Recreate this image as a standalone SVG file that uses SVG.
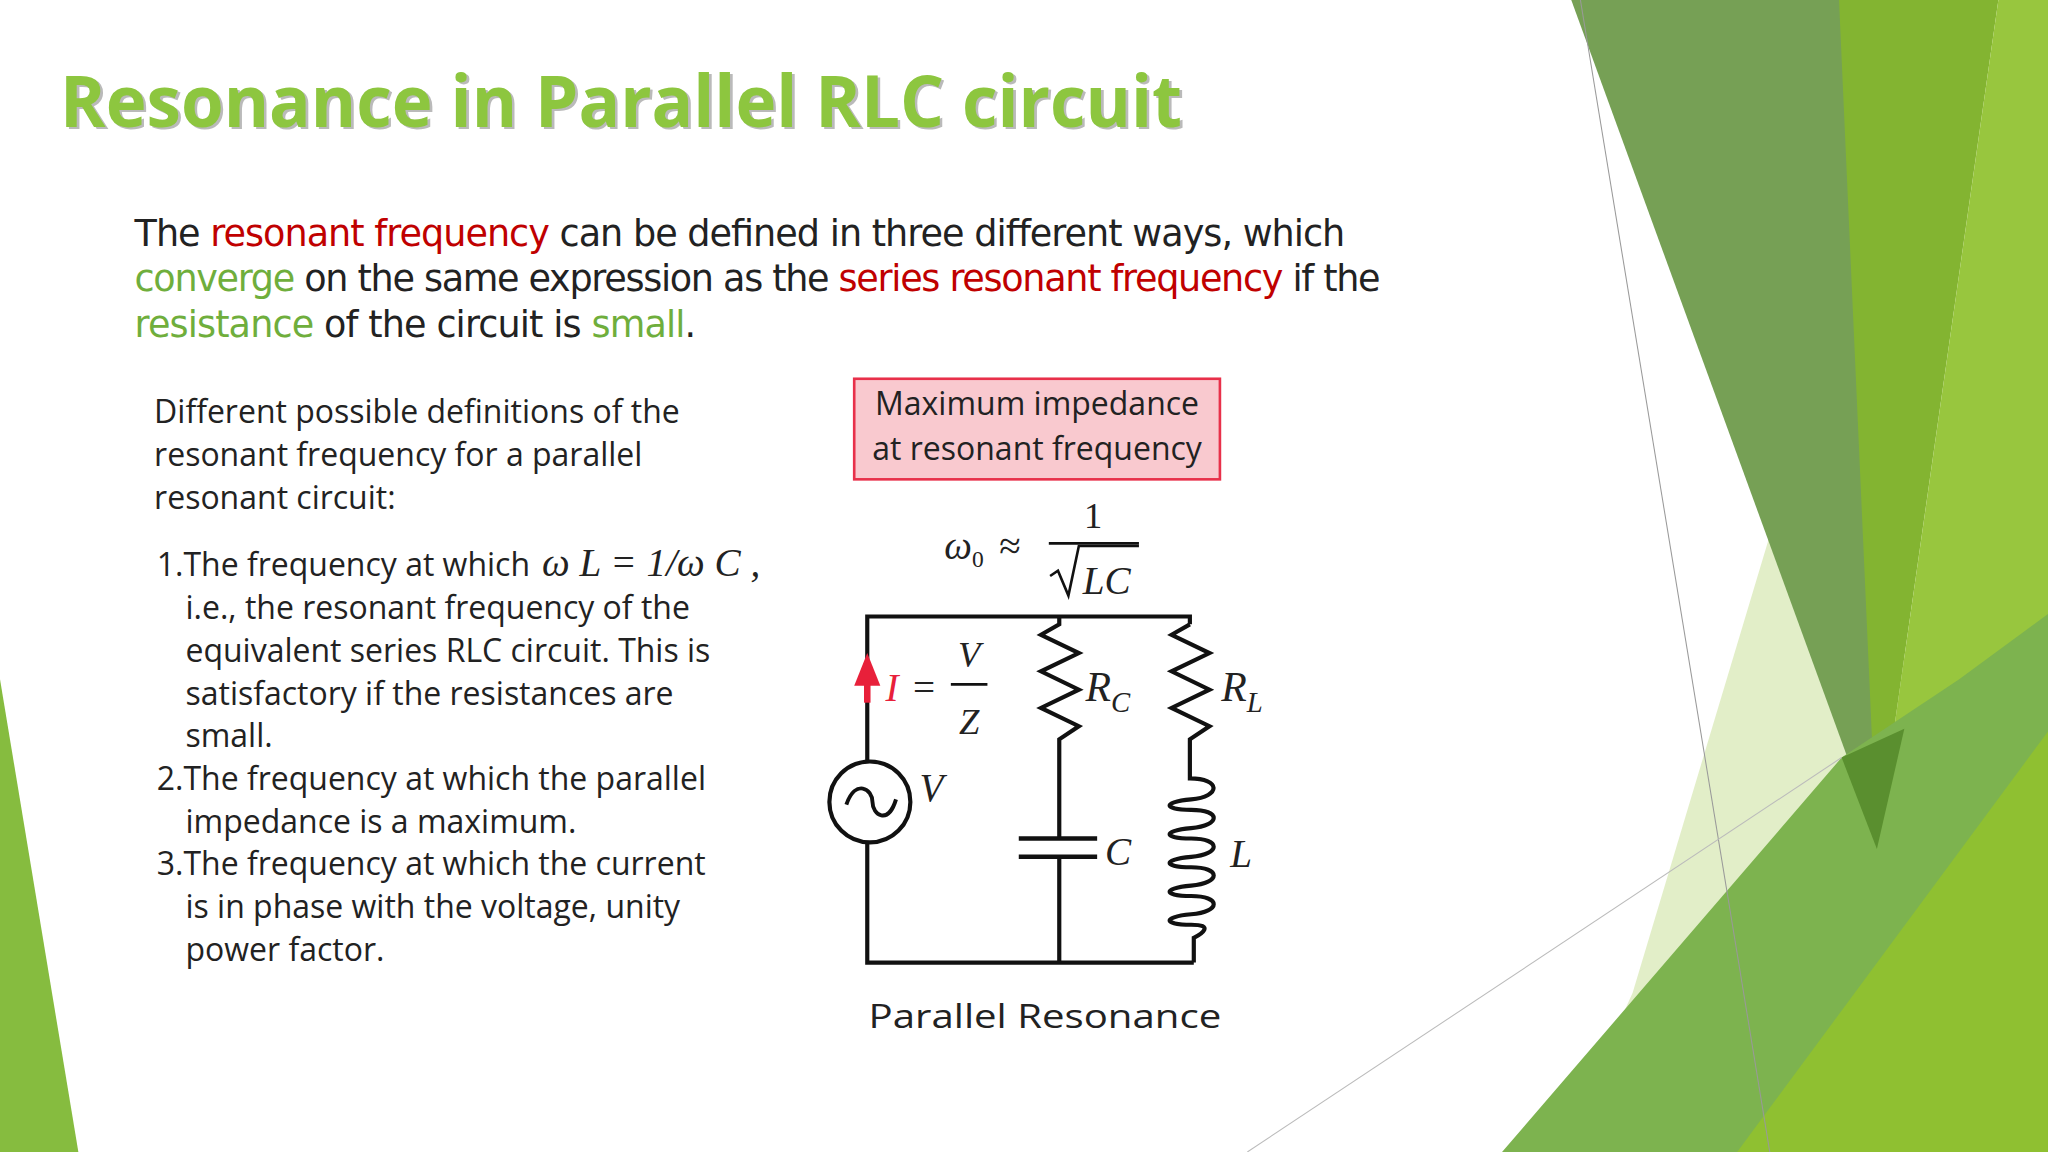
<svg xmlns="http://www.w3.org/2000/svg" width="2048" height="1152" viewBox="0 0 2048 1152">
<style>
.p{font-family:"DejaVu Sans",Verdana,sans-serif;font-size:28px;fill:#222}
.r{fill:#c00000}.g{fill:#6fae3c}
.c{font-family:"Open Sans","Liberation Sans",sans-serif;font-size:24.5px;fill:#222}
.m{font-family:"Liberation Serif",serif;font-style:italic;fill:#222}
.w{fill:none;stroke:#111;stroke-width:3.2;stroke-linejoin:miter}
</style>
<rect width="2048" height="1152" fill="#fff"/>
<g transform="scale(1.30612)">
<g id="background">
<polygon points="0,520 60,882 0,882" fill="#86bc3f"/>
<polygon points="1370,360 1505,580 1420,882 1195,882 1250,760" fill="#cfe3a4" opacity="0.6"/>
<polygon points="1203,0 1410,0 1440,650" fill="#76a055"/>
<polygon points="1408,0 1530,0 1437,650" fill="#83b431"/>
<polygon points="1530,0 1568,0 1568,560 1450,700 1437,650" fill="#98c63e"/>
<polygon points="1150,882 1410,580 1500,520 1568,470 1568,882" fill="#7db34f"/>
<polygon points="1330,882 1568,560 1568,882" fill="#8fc031"/>
<polygon points="1410,580 1458,558 1437,650" fill="#5a8f2f"/>
<line x1="1210" y1="0" x2="1355" y2="882" stroke="#999" stroke-width="0.8"/>
<line x1="955" y1="882" x2="1410" y2="580" stroke="#bbb" stroke-width="0.8"/>
</g>
<g id="title">
<text x="48" y="99" font-family="'Open Sans','DejaVu Sans',sans-serif" font-weight="bold" font-size="55" fill="#777" opacity="0.5" textLength="859" lengthAdjust="spacingAndGlyphs">Resonance in Parallel RLC circuit</text>
<text x="46" y="97" font-family="'Open Sans','DejaVu Sans',sans-serif" font-weight="bold" font-size="55" fill="#8dc63f" textLength="859" lengthAdjust="spacingAndGlyphs">Resonance in Parallel RLC circuit</text>
</g>
<g id="paragraph" class="p">
<text x="103" y="188" textLength="927">The <tspan class="r">resonant frequency</tspan> can be defined in three different ways, which</text>
<text x="103" y="223" textLength="954"><tspan class="g">converge</tspan> on the same expression as the <tspan class="r">series resonant frequency</tspan> if the</text>
<text x="103" y="258" textLength="430"><tspan class="g">resistance</tspan> of the circuit is <tspan class="g">small</tspan>.</text>
</g>
<g id="list" class="c">
<text x="118" y="324">Different possible definitions of the</text>
<text x="118" y="357">resonant frequency for a parallel</text>
<text x="118" y="390">resonant circuit:</text>
<text x="120" y="441">1.The frequency at which</text>
<text x="415" y="441" class="m" font-size="30">ω L = 1/ω C ,</text>
<text x="142" y="474">i.e., the resonant frequency of the</text>
<text x="142" y="507">equivalent series RLC circuit. This is</text>
<text x="142" y="540">satisfactory if the resistances are</text>
<text x="142" y="572">small.</text>
<text x="120" y="605">2.The frequency at which the parallel</text>
<text x="142" y="638">impedance is a maximum.</text>
<text x="120" y="670">3.The frequency at which the current</text>
<text x="142" y="703">is in phase with the voltage, unity</text>
<text x="142" y="736">power factor.</text>
</g>
<g id="label-box">
<rect x="654" y="290" width="280" height="77" fill="#f9c9cf" stroke="#e8304a" stroke-width="2"/>
<text x="794" y="318" text-anchor="middle" class="c" font-size="25">Maximum impedance</text>
<text x="794" y="352" text-anchor="middle" class="c" font-size="25">at resonant frequency</text>
</g>
<g id="formula" class="m">
<text x="723" y="428" font-size="30">ω<tspan font-size="18" dy="6" font-style="normal">0</tspan></text>
<text x="765" y="428" font-size="30" font-style="normal">≈</text>
<text x="837" y="404" font-size="28" font-style="normal" text-anchor="middle">1</text>
<line x1="803" y1="416" x2="872" y2="416" stroke="#111" stroke-width="2"/>
<polyline points="804,441 810,437 818,456 826,418 872,418" fill="none" stroke="#111" stroke-width="2"/>
<text x="829" y="455" font-size="30">LC</text>
</g>
<g id="circuit">
<path class="w" d="M664,525 V472 H911 V478 M811,472 V478 L797,486 L826,500 L797,514 L826,528 L797,542 L826,556 L811,566 V642 M811,656 V737 M914,737 H664 V645 M664,583 V535"/>
<path class="w" d="M911,478 L897,486 L926,500 L897,514 L926,528 L897,542 L926,556 L911,566 V596 C935,596 935,610 912,612 C890,614 890,620 912,620 C935,620 935,632 912,634 C890,636 890,642 912,642 C935,642 935,654 912,656 C890,658 890,664 912,664 C935,664 935,676 912,678 C890,680 890,686 912,686 C935,686 935,698 912,700 C890,702 890,708 912,708 C930,708 920,715 914,718 V737"/>
<line x1="780" y1="642" x2="840" y2="642" stroke="#111" stroke-width="3.5"/>
<line x1="780" y1="656" x2="840" y2="656" stroke="#111" stroke-width="3.5"/>
<circle cx="666" cy="614" r="31" fill="none" stroke="#111" stroke-width="3.2"/>
<path d="M648,616 C655,596 668,604 668,614 C668,624 680,632 686,612" fill="none" stroke="#111" stroke-width="3"/>
<polygon points="664,500 654,525 674,525" fill="#e8203a"/>
<line x1="664" y1="520" x2="664" y2="538" stroke="#e8203a" stroke-width="5"/>
<text x="678" y="537" class="m" font-size="30" style="fill:#e8203a">I</text>
<text x="699" y="537" font-family="Liberation Serif,serif" font-size="30" fill="#222">=</text>
<text x="742" y="511" class="m" font-size="28" text-anchor="middle">V</text>
<line x1="728" y1="524" x2="756" y2="524" stroke="#111" stroke-width="2"/>
<text x="742" y="562" class="m" font-size="28" text-anchor="middle">Z</text>
<text x="831" y="537" class="m" font-size="32">R<tspan font-size="22" dy="8">C</tspan></text>
<text x="935" y="537" class="m" font-size="32">R<tspan font-size="22" dy="8">L</tspan></text>
<text x="704" y="613" class="m" font-size="30">V</text>
<text x="846" y="662" class="m" font-size="30">C</text>
<text x="942" y="664" class="m" font-size="30">L</text>
</g>
<text x="665" y="787" class="c" font-size="32" textLength="270" lengthAdjust="spacingAndGlyphs">Parallel Resonance</text>
</g>
</svg>
